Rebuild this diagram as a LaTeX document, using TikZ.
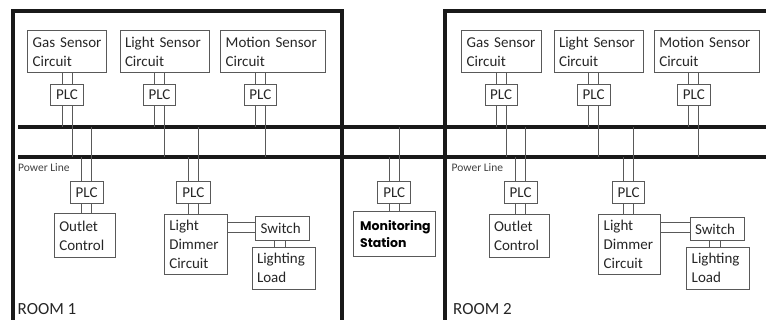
\documentclass[tikz,border=0pt]{standalone}
\usepackage{fontspec}
\setmainfont{Carlito}
\newfontfamily\monfont{Poppins}
\begin{document}
\begin{tikzpicture}[x=1pt,y=-1pt,
  room/.style={line width=4pt,draw=black!90},
  bus/.style={line width=4pt,draw=black!90},
  wire/.style={line width=1pt,draw=black!65},
  box/.style={draw=black!65,line width=1pt,inner sep=0pt,text=black!85,
    font=\fontsize{15}{19}\selectfont,align=left},
  plcbox/.style={box,align=center},
  small/.style={font=\fontsize{11.5}{12}\selectfont,text=black!75,inner sep=0pt},
  roomlbl/.style={font=\fontsize{17}{18}\selectfont,text=black!85,inner sep=0pt}]
\newcommand\bx[7][]{%
  \pgfmathsetmacro\bw{#5-#3}\pgfmathsetmacro\bh{#6-#4}\pgfmathsetmacro\tw{#5-#3-10}%
  \node[box,minimum width=\bw pt,minimum height=\bh pt,text width=\tw pt,#1]
    (#2) at ({(#3+#5)/2},{(#4+#6)/2}) {#7};}
\useasboundingbox (0,0) rectangle (766,320);
% rooms
\draw[room] (13,324) -- (13,11) -- (342,11) -- (342,324);
\draw[room] (445,324) -- (445,11) -- (770,11);
% buses
\coordinate (b1L) at (18,127); \coordinate (b1R) at (766,127);
\coordinate (b2L) at (18,157); \coordinate (b2R) at (766,157);
\draw[bus] (b1L) -- (b1R);
\draw[bus] (b2L) -- (b2R);
% room 1 boxes
\bx{gs1}{27.7}{30.7}{106.7}{72.7}{Gas Sensor\\Circuit}
\bx{ls1}{120}{30.7}{209}{72.7}{Light Sensor\\Circuit}
\bx{ms1}{220.7}{30.7}{325}{72.7}{Motion Sensor\\Circuit}
\bx[plcbox]{gp1}{50.7}{84.3}{83.3}{106}{PLC}
\bx[plcbox]{lp1}{143.3}{84.3}{175.7}{106}{PLC}
\bx[plcbox]{mp1}{244}{84.3}{276.7}{106}{PLC}
\bx[plcbox]{op1}{70}{181.7}{103.3}{204}{PLC}
\bx{oc1}{54.3}{214}{115}{257.7}{Outlet\\Control}
\bx[plcbox]{dp1}{176.7}{181.7}{210}{204}{PLC}
\bx{dm1}{164.3}{214.3}{227.3}{274.3}{Light\\Dimmer\\Circuit}
\bx{sw1}{255.7}{216.7}{309.3}{240.7}{Switch}
\bx{ld1}{252}{247.3}{315.3}{289.3}{Lighting\\Load}
% monitoring
\bx[plcbox]{mp0}{377.7}{181.7}{410.7}{204}{PLC}
\bx[text width=68pt,font=\monfont\bfseries\fontsize{12.5}{17.5}\selectfont,text=black]{mst}{353.3}{211.7}{435}{256.7}{Monitoring\\Station}
% room 2 boxes
\bx{gs2}{461.7}{30.7}{541}{72.7}{Gas Sensor\\Circuit}
\bx{ls2}{554}{30.7}{643.3}{72.7}{Light Sensor\\Circuit}
\bx{ms2}{654.3}{30.7}{759}{72.7}{Motion Sensor\\Circuit}
\bx[plcbox]{gp2}{485}{84.3}{517.3}{106}{PLC}
\bx[plcbox]{lp2}{577.3}{84.3}{610}{106}{PLC}
\bx[plcbox]{mp2}{677.7}{84.3}{710}{106}{PLC}
\bx[plcbox]{op2}{504}{181.7}{537.3}{204}{PLC}
\bx{oc2}{489}{214.3}{549}{257.7}{Outlet\\Control}
\bx[plcbox]{dp2}{612.7}{181.7}{644.3}{204}{PLC}
\bx{dm2}{598.7}{214.3}{660.7}{274.3}{Light\\Dimmer\\Circuit}
\bx{sw2}{690}{217.3}{744}{240.7}{Switch}
\bx{ld2}{686.7}{247.3}{749.3}{289.3}{Lighting\\Load}
% sensor wiring
\foreach \s/\p in {gs1/gp1,ls1/lp1,ms1/mp1,gs2/gp2,ls2/lp2,ms2/mp2}{
  \draw[wire] ([xshift=-5pt]\p.north) -- ([xshift=-5pt]\p.north |- \s.south);
  \draw[wire] ([xshift=5pt]\p.north) -- ([xshift=5pt]\p.north |- \s.south);
  \draw[wire] ([xshift=-5pt]\p.south) -- ([xshift=-5pt]\p.south |- b1L);
  \draw[wire] ([xshift=5pt]\p.south) -- ([xshift=5pt]\p.south |- b2L);
}
% load wiring
\foreach \p/\b in {op1/oc1,dp1/dm1,mp0/mst,op2/oc2,dp2/dm2}{
  \draw[wire] ([xshift=-5pt]\p.north) -- ([xshift=-5pt]\p.north |- b2L);
  \draw[wire] ([xshift=5pt]\p.north) -- ([xshift=5pt]\p.north |- b1L);
  \draw[wire] ([xshift=-5pt]\p.south) -- ([xshift=-5pt]\p.south |- \b.north);
  \draw[wire] ([xshift=5pt]\p.south) -- ([xshift=5pt]\p.south |- \b.north);
}
% dimmer - switch - load
\foreach \d/\w/\l in {dm1/sw1/ld1,dm2/sw2/ld2}{
  \draw[wire] ([yshift=6pt]\w.west) -- ([yshift=6pt]\w.west -| \d.east);
  \draw[wire] ([yshift=-4pt]\w.west) -- ([yshift=-4pt]\w.west -| \d.east);
  \draw[wire] ([xshift=-8pt]\w.south) -- ([xshift=-8pt]\w.south |- \l.north);
  \draw[wire] ([xshift=3pt]\w.south) -- ([xshift=3pt]\w.south |- \l.north);
}
% labels
\node[small,anchor=west] (pl1) at (18,167.5) {Power Line};
\node[small,anchor=west] (pl2) at (451.5,167.5) {Power Line};
\node[roomlbl,anchor=base west] (r1) at (17.5,314.5) {ROOM 1};
\node[roomlbl,anchor=base west] (r2) at (453,314.5) {ROOM 2};
\end{tikzpicture}
\end{document}
